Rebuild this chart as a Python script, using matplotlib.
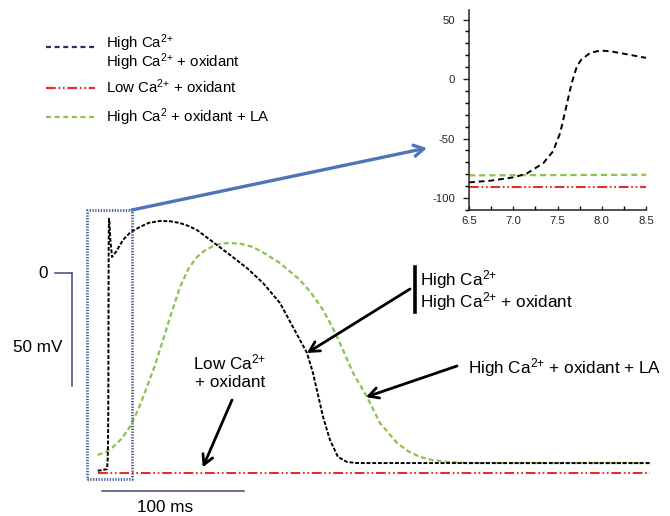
import matplotlib
matplotlib.use("Agg")
import matplotlib.pyplot as plt
from matplotlib.lines import Line2D
from matplotlib.ticker import MultipleLocator

plt.rcParams['font.family'] = ['Liberation Sans', 'DejaVu Sans']
plt.rcParams['mathtext.default'] = 'regular'
plt.rcParams['lines.scale_dashes'] = False

# ---------------- data (main trace: time in ms, voltage in mV) ----------------
black_t = [0, 3, 6.5, 6.74, 7.0, 7.15, 7.34, 7.45, 7.53, 7.60, 7.66, 7.72, 7.77,
           7.87, 7.98, 8.3, 9.0, 10.1, 13.0, 17.8, 23.0, 29.8, 36.0, 43.9, 51.0,
           58.0, 64.0, 69.9, 81.2, 93.2, 105.1, 116.4, 128.4, 137.5, 147.4, 151.6,
           158.7, 163.6, 169.2, 175.6, 182.6, 260.0, 389.0]
black_v = [-87.5, -87.2, -86.8, -85.4, -82.6, -79.5, -70.6, -60.7, -45.3, -22.9,
           -3.4, 10.8, 16.4, 22.0, 24.0, 22.0, 14.0, 7.1, 9.5, 14.6, 18.0, 20.4,
           22.2, 23.0, 22.9, 22.1, 20.8, 19.0, 13.7, 8.0, 2.2, -4.4, -13.3, -23.9,
           -35.4, -44.2, -63.7, -73.9, -81.4, -83.6, -84.1, -84.1, -84.1]

green_t = [0, 5.0, 10.8, 16.5, 22.7, 28.5, 34.7, 40.5, 46.0, 52.0, 58.0, 64.0,
           69.9, 75.5, 81.2, 87.0, 93.2, 101.0, 109.4, 118.0, 128.4, 142.5, 150.5,
           158.7, 164.5, 170.6, 179.8, 189.7, 198.8, 210.8, 218.5, 227.0, 236.0,
           246.0, 260.1, 389.0]
green_v = [-80.5, -79.5, -77.0, -73.5, -68.1, -60.5, -50.4, -40.5, -29.6, -17.5,
           -6.2, 2.0, 7.1, 10.0, 11.9, 13.0, 13.3, 12.9, 11.5, 8.5, 4.4, -3.1,
           -9.0, -16.4, -23.0, -31.0, -44.2, -54.9, -66.4, -75.2, -78.8, -81.4,
           -82.8, -83.6, -84.1, -84.1]

red_t = [0, 389.0]
red_v = [-88.5, -88.5]

# ---------------- inset data ----------------
in_black_t = [6.5, 6.74, 7.0, 7.15, 7.34, 7.45, 7.53, 7.60, 7.66, 7.72, 7.77,
              7.87, 7.98, 8.09, 8.24, 8.5]
in_black_v = [-86.8, -85.4, -82.6, -79.5, -70.6, -60.7, -45.3, -22.9, -3.4,
              10.8, 16.4, 22.0, 23.9, 23.4, 21.4, 17.8]
in_green_t = [6.5, 8.5]
in_green_v = [-80.9, -80.4]
in_red_t = [6.5, 8.5]
in_red_v = [-90.7, -90.7]

SUP = '$^{2{+}}$'
legend_labels = ['High Ca' + SUP + '\nHigh Ca' + SUP + ' + oxidant',
                 'Low Ca' + SUP + ' + oxidant',
                 'High Ca$^{2}$ + oxidant + LA']
annot_high = 'High Ca' + SUP + '\nHigh Ca' + SUP + ' + oxidant'
annot_low = 'Low Ca' + SUP + '\n+ oxidant'
annot_la = 'High Ca' + SUP + ' + oxidant + LA'

# ---------------- styling ----------------
W, H = 670, 516
BLACK = '#000000'
LEG_BLACK = '#2a2e5c'
RED = '#e0302a'
GREEN = '#8cc152'
BLUE = '#4f74b8'
NAVY = '#3c5896'
BAR = '#3d4a7b'

fig = plt.figure(figsize=(W / 100, H / 100), dpi=100)

def fpx(x, y):
    return (x / W, 1 - y / H)

# main axes spanning figure; data mapping: x_px = 97.7 + 1.42 t, y_px = 273 - 2.26 V
ax = fig.add_axes([0, 0, 1, 1])
ax.set_xlim(-97.7 / 1.42, (W - 97.7) / 1.42)
ax.set_ylim((273 - H) / 2.26, 273 / 2.26)
ax.axis('off')

ax.plot(red_t, red_v, color=RED, lw=1.5, dashes=(7, 2, 1.2, 2, 1.2, 2))
ax.plot(green_t, green_v, color=GREEN, lw=1.6, dashes=(3.6, 2.2))
ax.plot(black_t, black_v, color=BLACK, lw=1.4, dashes=(2.8, 1.3))

# dotted zoom box
bx0, bx1 = -7.5, 24.2
by0, by1 = -91.2, 27.9
ax.plot([bx0, bx1, bx1, bx0, bx0], [by0, by0, by1, by1, by0], color=NAVY,
        lw=2.0, ls=(0, (0.9, 1.1)))

# blue arrow to inset
ax.annotate('', xy=fpx(427, 148), xycoords='figure fraction',
            xytext=(bx1, by1), textcoords='data',
            arrowprops=dict(arrowstyle='->,head_length=0.7,head_width=0.4',
                            color=BLUE, lw=2.4, shrinkA=0, shrinkB=0))

# scale bars
ax.plot([-18.1, -18.1], [0, -50], color=BAR, lw=1.1)
ax.plot([-30.1, -18.1], [0, 0], color=BAR, lw=1.1)
ax.plot([3.0, 103.0], [-96.5, -96.5], color=BAR, lw=1.1)

FS = 12.3
fig.text(*fpx(48, 278), '0', fontsize=FS, ha='right', va='baseline')
fig.text(*fpx(13, 352), '50 mV', fontsize=FS, ha='left', va='baseline')
fig.text(*fpx(137, 512), '100 ms', fontsize=FS, ha='left', va='baseline')

# annotations
arrow_kw = dict(arrowstyle='->,head_length=0.7,head_width=0.38', color='black',
                lw=2.0, shrinkA=0, shrinkB=0)
fig.text(*fpx(230, 353), annot_low, fontsize=FS, ha='center', va='top',
         multialignment='center', linespacing=1.17)
ax.annotate('', xy=(74.0, -86.0), xytext=fpx(232, 400),
            textcoords='figure fraction', arrowprops=arrow_kw)

fig.text(*fpx(420, 268), annot_high, fontsize=FS, ha='left', va='top',
         linespacing=0.97)
fig.add_artist(Line2D([415 / W, 415 / W], [1 - 267 / H, 1 - 312 / H],
                      color='black', lw=2.6))
ax.annotate('', xy=(147.4, -35.4), xytext=fpx(410, 289),
            textcoords='figure fraction', arrowprops=arrow_kw)

fig.text(*fpx(468, 373), annot_la, fontsize=FS, ha='left', va='baseline')
ax.annotate('', xy=(188.9, -54.9), xytext=fpx(457, 366),
            textcoords='figure fraction', arrowprops=arrow_kw)

# legend (manual)
LFS = 10.8
legend_rows = [(47, LEG_BLACK, (3.6, 2.6)), (88, RED, (7, 2, 1.2, 2, 1.2, 2)),
               (117, GREEN, (3.6, 2.6))]
for (yy, col, dsh) in legend_rows:
    ln = Line2D([46 / W, 95 / W], [1 - yy / H, 1 - yy / H], color=col, lw=1.6)
    ln.set_dashes(dsh)
    fig.add_artist(ln)
fig.text(*fpx(106, 32), legend_labels[0], fontsize=LFS, va='top', linespacing=0.86)
fig.text(*fpx(106, 93), legend_labels[1], fontsize=LFS, va='baseline')
fig.text(*fpx(106, 122), legend_labels[2], fontsize=LFS, va='baseline')

# ---------------- inset ----------------
axi = fig.add_axes([469 / W, 1 - 210 / H, 177 / W, 200 / H])
axi.set_xlim(6.5, 8.5)
axi.set_ylim(-110, 58)
axi.plot(in_red_t, in_red_v, color=RED, lw=1.5, dashes=(7, 2, 1.2, 2, 1.2, 2))
axi.plot(in_green_t, in_green_v, color=GREEN, lw=1.6, dashes=(4.5, 2.8))
axi.plot(in_black_t, in_black_v, color=BLACK, lw=1.4, dashes=(4.2, 2.8))
for s in ['top', 'right']:
    axi.spines[s].set_visible(False)
for s in ['left', 'bottom']:
    axi.spines[s].set_linewidth(1.1)
    axi.spines[s].set_color('#222222')
axi.xaxis.set_minor_locator(MultipleLocator(0.25))
axi.yaxis.set_minor_locator(MultipleLocator(10))
axi.set_xticks([6.5, 7.0, 7.5, 8.0, 8.5])
axi.set_xticklabels(['6.5', '7.0', '7.5', '8.0', '8.5'])
axi.set_yticks([-100, -50, 0, 50])
axi.set_yticklabels(['-100', '-50', '0', '50'])
axi.tick_params(axis='x', which='major', direction='in', length=3, width=1,
                labelsize=8.2, pad=4, colors='#222222')
axi.tick_params(axis='x', which='minor', direction='in', length=3, width=1)
axi.tick_params(axis='y', which='major', direction='out', length=4, width=1,
                labelsize=8.2, pad=6, colors='#222222')
axi.tick_params(axis='y', which='minor', direction='out', length=3, width=1)
axi.patch.set_alpha(0)

fig.savefig('out.png', dpi=100)
